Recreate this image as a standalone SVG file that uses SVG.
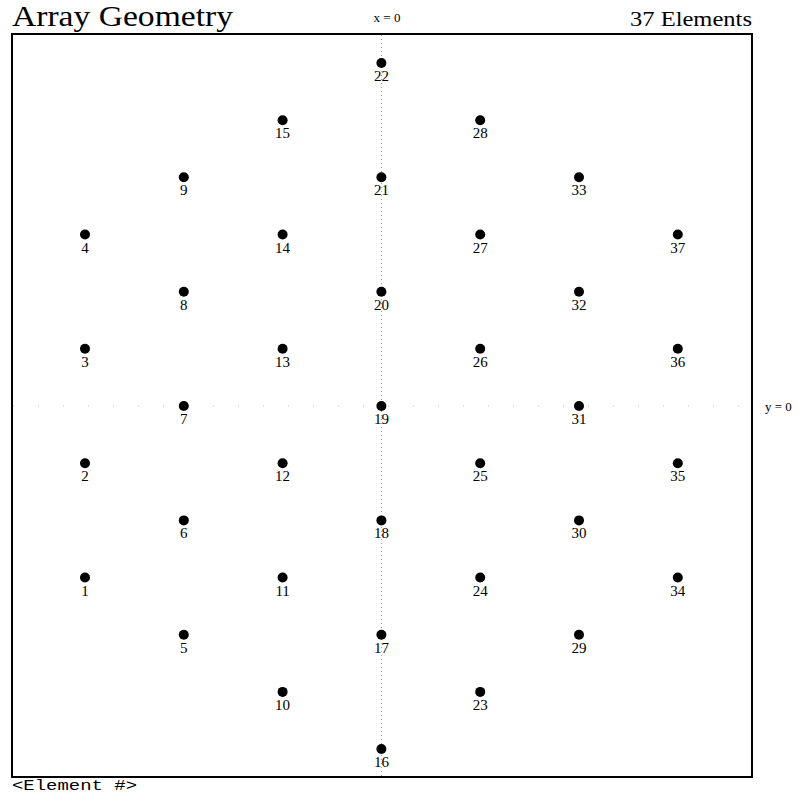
<svg xmlns="http://www.w3.org/2000/svg" width="803" height="803" viewBox="0 0 803 803">
<style>
.n circle{fill:#000}
.n text{font-family:"Liberation Serif",serif;font-size:15px;text-anchor:middle;fill:#000}
.axis{stroke:#999;stroke-width:1;stroke-dasharray:1 3;fill:none}
.axis.h{stroke:#bbb;stroke-dasharray:1 24}
.lbl{font-family:"Liberation Serif",serif;fill:#000}
</style>
<rect x="0" y="0" width="803" height="803" fill="#fff"/>
<rect x="12" y="34" width="740" height="743" fill="none" stroke="#000" stroke-width="2"/>
<text class="lbl" x="12" y="26" font-size="30" textLength="221" lengthAdjust="spacingAndGlyphs">Array Geometry</text>
<text class="lbl" x="387" y="22" font-size="13" text-anchor="middle">x = 0</text>
<text class="lbl" x="630" y="26" font-size="20" textLength="122" lengthAdjust="spacingAndGlyphs">37 Elements</text>
<text class="lbl" x="765" y="411" font-size="13">y = 0</text>
<text x="12" y="790" font-family="'Liberation Mono',monospace" font-size="14" fill="#000" textLength="125" lengthAdjust="spacingAndGlyphs">&lt;Element #&gt;</text>
<g id="connectors">
<line class="axis" x1="381.4" y1="35" x2="381.4" y2="776"/>
<line class="axis h" x1="13" y1="406" x2="751" y2="406"/>
</g>
<g class="n">
<g id="n1" transform="translate(85,577.5)"><circle r="5"/><text y="18">1</text></g>
<g id="n2" transform="translate(85,463.2)"><circle r="5"/><text y="18">2</text></g>
<g id="n3" transform="translate(85,348.8)"><circle r="5"/><text y="18">3</text></g>
<g id="n4" transform="translate(85,234.5)"><circle r="5"/><text y="18">4</text></g>
<g id="n5" transform="translate(183.8,634.7)"><circle r="5"/><text y="18">5</text></g>
<g id="n6" transform="translate(183.8,520.4)"><circle r="5"/><text y="18">6</text></g>
<g id="n7" transform="translate(183.8,406)"><circle r="5"/><text y="18">7</text></g>
<g id="n8" transform="translate(183.8,291.7)"><circle r="5"/><text y="18">8</text></g>
<g id="n9" transform="translate(183.8,177.3)"><circle r="5"/><text y="18">9</text></g>
<g id="n10" transform="translate(282.6,691.9)"><circle r="5"/><text y="18">10</text></g>
<g id="n11" transform="translate(282.6,577.5)"><circle r="5"/><text y="18">11</text></g>
<g id="n12" transform="translate(282.6,463.2)"><circle r="5"/><text y="18">12</text></g>
<g id="n13" transform="translate(282.6,348.8)"><circle r="5"/><text y="18">13</text></g>
<g id="n14" transform="translate(282.6,234.5)"><circle r="5"/><text y="18">14</text></g>
<g id="n15" transform="translate(282.6,120.2)"><circle r="5"/><text y="18">15</text></g>
<g id="n16" transform="translate(381.4,749)"><circle r="5"/><text y="18">16</text></g>
<g id="n17" transform="translate(381.4,634.7)"><circle r="5"/><text y="18">17</text></g>
<g id="n18" transform="translate(381.4,520.4)"><circle r="5"/><text y="18">18</text></g>
<g id="n19" transform="translate(381.4,406)"><circle r="5"/><text y="18">19</text></g>
<g id="n20" transform="translate(381.4,291.7)"><circle r="5"/><text y="18">20</text></g>
<g id="n21" transform="translate(381.4,177.3)"><circle r="5"/><text y="18">21</text></g>
<g id="n22" transform="translate(381.4,63)"><circle r="5"/><text y="18">22</text></g>
<g id="n23" transform="translate(480.2,691.9)"><circle r="5"/><text y="18">23</text></g>
<g id="n24" transform="translate(480.2,577.5)"><circle r="5"/><text y="18">24</text></g>
<g id="n25" transform="translate(480.2,463.2)"><circle r="5"/><text y="18">25</text></g>
<g id="n26" transform="translate(480.2,348.8)"><circle r="5"/><text y="18">26</text></g>
<g id="n27" transform="translate(480.2,234.5)"><circle r="5"/><text y="18">27</text></g>
<g id="n28" transform="translate(480.2,120.2)"><circle r="5"/><text y="18">28</text></g>
<g id="n29" transform="translate(579,634.7)"><circle r="5"/><text y="18">29</text></g>
<g id="n30" transform="translate(579,520.4)"><circle r="5"/><text y="18">30</text></g>
<g id="n31" transform="translate(579,406)"><circle r="5"/><text y="18">31</text></g>
<g id="n32" transform="translate(579,291.7)"><circle r="5"/><text y="18">32</text></g>
<g id="n33" transform="translate(579,177.3)"><circle r="5"/><text y="18">33</text></g>
<g id="n34" transform="translate(677.8,577.5)"><circle r="5"/><text y="18">34</text></g>
<g id="n35" transform="translate(677.8,463.2)"><circle r="5"/><text y="18">35</text></g>
<g id="n36" transform="translate(677.8,348.8)"><circle r="5"/><text y="18">36</text></g>
<g id="n37" transform="translate(677.8,234.5)"><circle r="5"/><text y="18">37</text></g>
</g>
</svg>
